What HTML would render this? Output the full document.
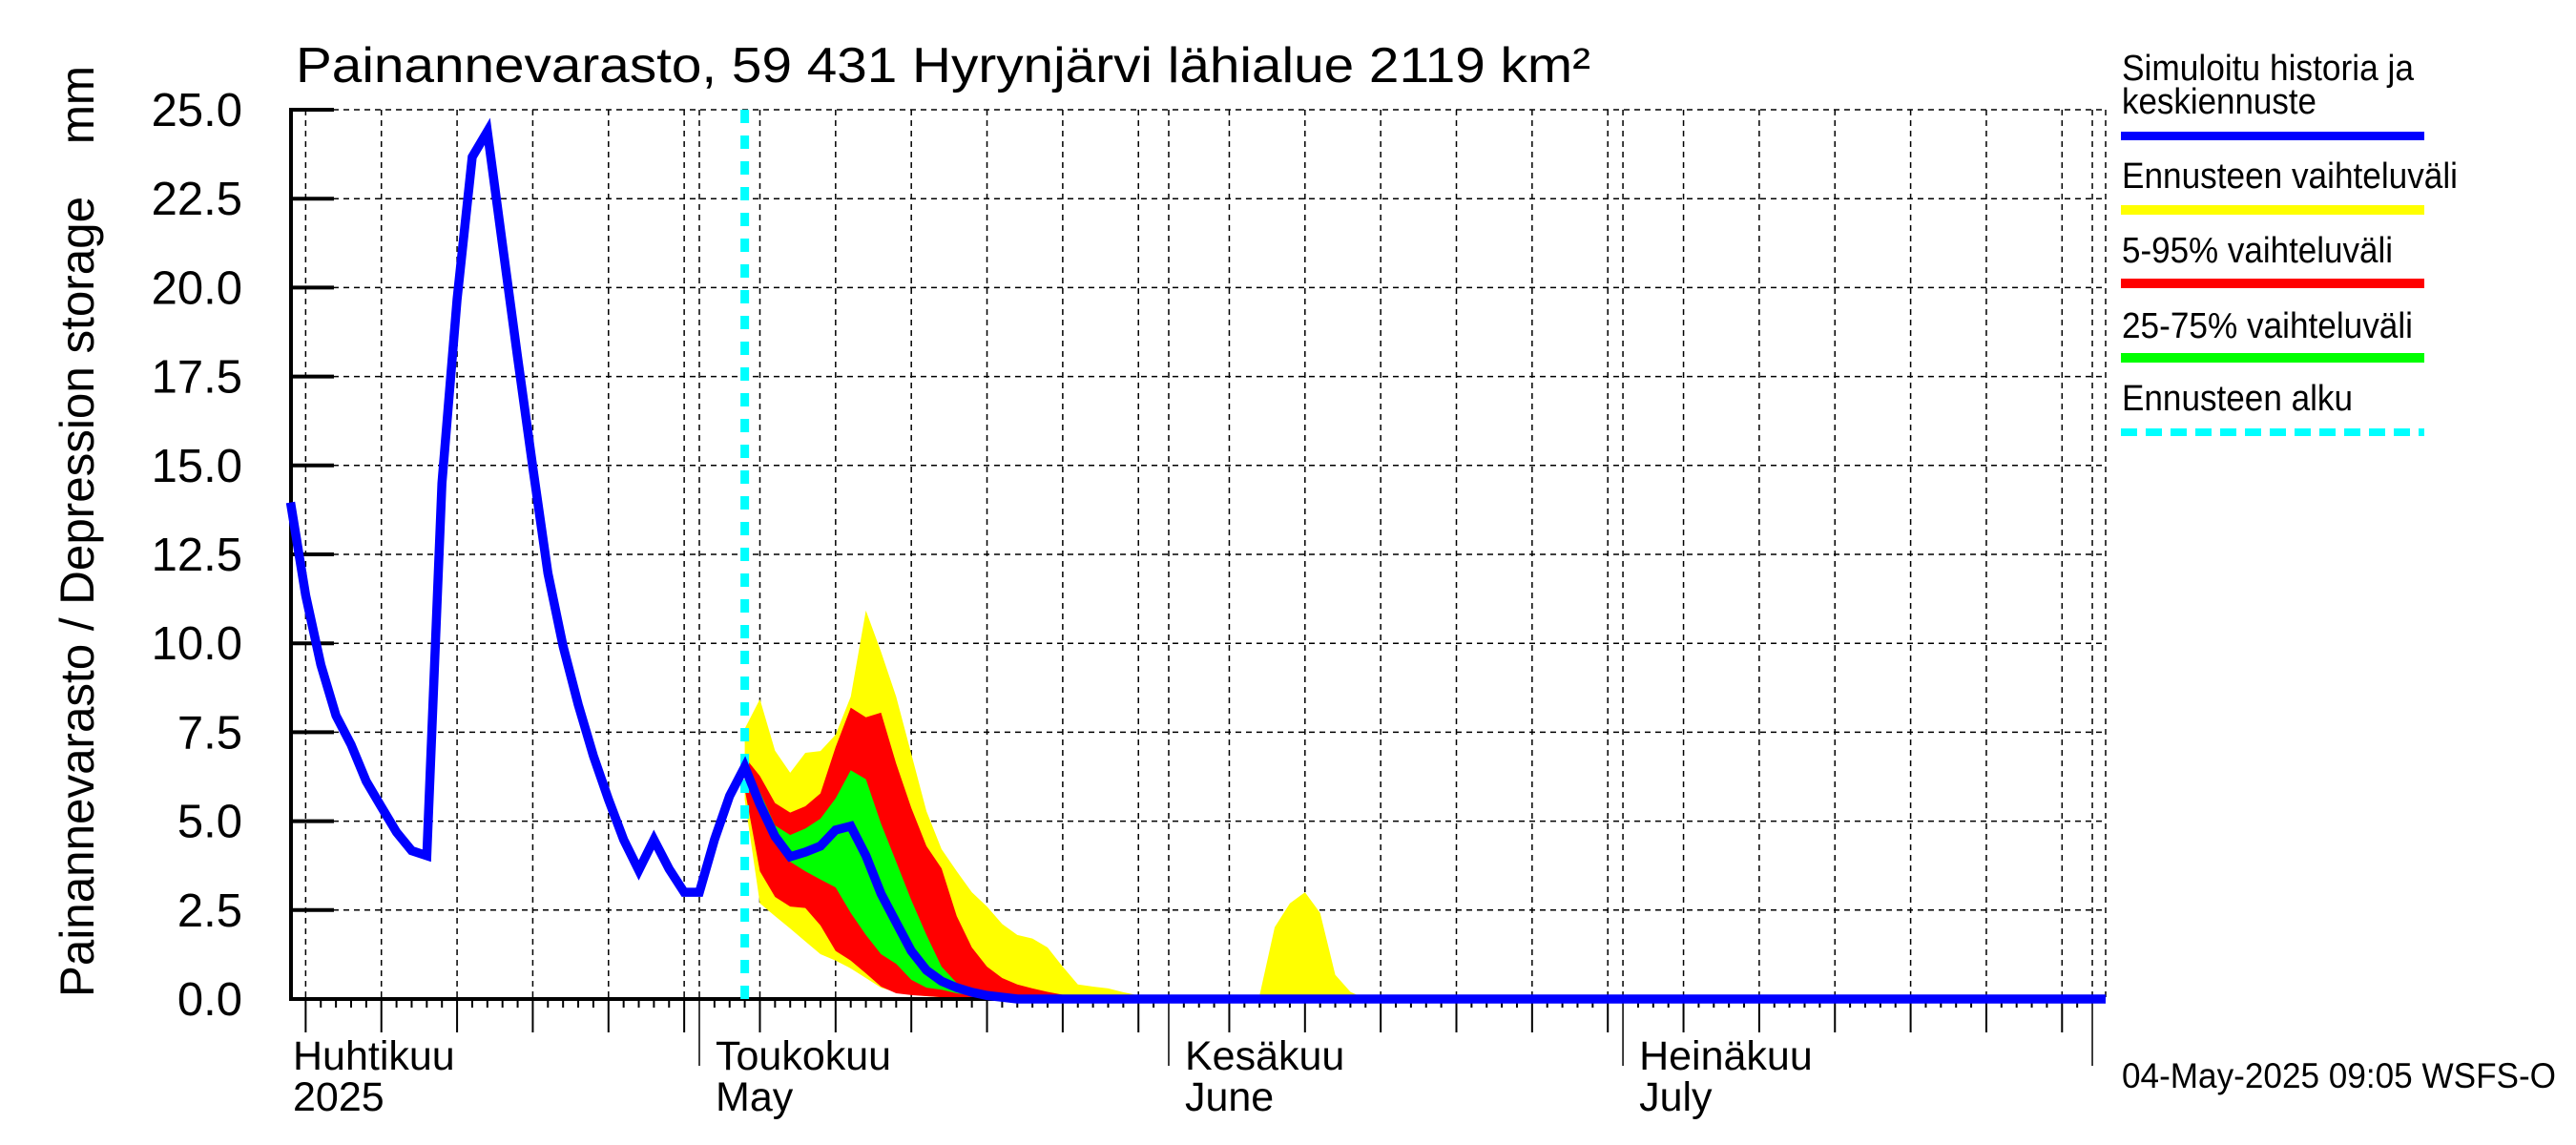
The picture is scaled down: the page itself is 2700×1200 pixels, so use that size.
<!DOCTYPE html>
<html><head><meta charset="utf-8"><style>
html,body{margin:0;padding:0;background:#fff;}
svg{display:block;font-family:"Liberation Sans",sans-serif;}
</style></head><body>
<svg id="chart" width="2700" height="1200" viewBox="0 0 2700 1200" xmlns="http://www.w3.org/2000/svg">
<rect width="2700" height="1200" fill="#fff"/>
<g id="grid"></g>
<g id="bands"></g>
<g id="lines"></g>
<g id="axes"></g>
<text x="310" y="86" font-size="52" textLength="1357" lengthAdjust="spacingAndGlyphs">Painannevarasto, 59 431 Hyrynjärvi lähialue 2119 km²</text>
<text transform="translate(98,1045) rotate(-90)" font-size="50" textLength="976" lengthAdjust="spacingAndGlyphs" xml:space="preserve">Painannevarasto / Depression storage    mm</text>
<g>
<text x="2224" y="84" font-size="38" textLength="306" lengthAdjust="spacingAndGlyphs">Simuloitu historia ja</text>
<text x="2224" y="119" font-size="38" textLength="204" lengthAdjust="spacingAndGlyphs">keskiennuste</text>
<rect x="2223" y="138" width="318" height="9" fill="#0000ff"/>
<text x="2224" y="197" font-size="38" textLength="352" lengthAdjust="spacingAndGlyphs">Ennusteen vaihteluväli</text>
<rect x="2223" y="215" width="318" height="10" fill="#ffff00"/>
<text x="2224" y="275" font-size="38" textLength="284" lengthAdjust="spacingAndGlyphs">5-95% vaihteluväli</text>
<rect x="2223" y="292" width="318" height="10" fill="#ff0000"/>
<text x="2224" y="354" font-size="38" textLength="305" lengthAdjust="spacingAndGlyphs">25-75% vaihteluväli</text>
<rect x="2223" y="370" width="318" height="10" fill="#00ff00"/>
<text x="2224" y="430" font-size="38" textLength="242" lengthAdjust="spacingAndGlyphs">Ennusteen alku</text>
<line x1="2223" y1="453" x2="2541" y2="453" stroke="#00ffff" stroke-width="8" stroke-dasharray="17 9"/>
</g>
<text x="2224" y="1140" font-size="37" textLength="455" lengthAdjust="spacingAndGlyphs">04-May-2025 09:05 WSFS-O</text>
</svg>
<script>
// day index t: days relative to 1 May 2025
const histStart = -27;
const histValues = [13.96,11.35,9.4,7.97,7.15,6.12,5.4,4.69,4.17,4.03,14.5,19.67,23.67,24.39,21.2,18.03,14.95,11.97,9.92,8.28,6.84,5.61,4.48,3.62,4.48,3.66,3.0,3.0,4.48,5.71,6.53];
const fcStart = 3;
const medianValues = [6.53,5.47,4.57,4.0,4.13,4.3,4.75,4.86,4.03,2.96,2.15,1.35,0.81,0.5,0.32,0.19,0.1,0.05,0];
const maxValues = [7.6,8.43,6.98,6.36,6.92,6.97,7.43,8.5,10.92,9.76,8.5,6.89,5.28,4.21,3.59,3.0,2.6,2.11,1.8,1.7,1.45,0.91,0.41,0.35,0.3,0.19,0.1,0.02,0,0,0,0,0,0,0.1,2.02,2.69,3.0,2.42,0.68,0.2,0];
const minValues = [5.6,2.69,2.33,1.98,1.62,1.26,1.08,0.86,0.59,0.32,0.19,0.12,0.08,0.05,0.02,0];
const p95Values = [6.8,6.27,5.51,5.24,5.42,5.78,7.08,8.19,7.92,8.05,6.62,5.37,4.3,3.67,2.33,1.45,0.91,0.59,0.41,0.3,0.2,0.12,0.05,0];
const p5Values = [5.9,3.59,2.87,2.6,2.56,2.07,1.35,1.08,0.72,0.35,0.16,0.11,0.08,0.05,0.02,0];
const p75Values = [6.7,5.82,4.88,4.61,4.79,5.07,5.64,6.43,6.18,4.93,3.86,2.78,1.8,0.91,0.45,0.32,0.2,0.1,0];
const p25Values = [6.18,5.28,4.48,3.86,3.59,3.36,3.14,2.42,1.8,1.26,0.99,0.54,0.32,0.26,0.16,0.1,0.05,0];
const yTicks = [0,2.5,5,7.5,10,12.5,15,17.5,20,22.5,25];
const yTickLabels = ["0.0","2.5","5.0","7.5","10.0","12.5","15.0","17.5","20.0","22.5","25.0"];
const monthStarts = [-30,0,31,61,92];
const monthLabels = [["Huhtikuu","2025"],["Toukokuu","May"],["Kesäkuu","June"],["Heinäkuu","July"]];
const endT = 92.9;

const NS="http://www.w3.org/2000/svg";
const X0=305,X1=2207,Y0=1047,Y1=115;
const tMin=(X0-733)/15.87;
function xs(t){return 733+t*15.87;}
function ys(v){return Y0-(v/25)*(Y0-Y1);}
function mk(tag,attrs,parent){const e=document.createElementNS(NS,tag);for(const k in attrs)e.setAttribute(k,attrs[k]);parent.appendChild(e);return e;}
const grid=document.getElementById('grid'),bands=document.getElementById('bands'),lines=document.getElementById('lines'),axes=document.getElementById('axes');

yTicks.forEach((v,i)=>{
  const l=mk('line',{x1:X0,x2:X1,y1:ys(v),y2:ys(v),stroke:'#000','stroke-width':1.5,'stroke-dasharray':'6 5'},grid);
  
  
  const tk=mk('line',{x1:X0,x2:350,y1:ys(v),y2:ys(v),stroke:'#000','stroke-width':4},axes);
  
  
  const tx=mk('text',{x:254,y:ys(v)+17,'font-size':49,'text-anchor':'end'},axes);
  tx.textContent=yTickLabels[i];
  
  
});
for(let t=Math.ceil(tMin);t<=endT;t++){
  const d=new Date(Date.UTC(2025,4,1+t));const day=d.getUTCDate();
  const x=xs(t);
  let len=9;
  if(day===1){len=70;}
  else if(day%5===0){len=35;}
  if(day===1||day%5===0){
    const g=mk('line',{x1:x,x2:x,y1:Y1,y2:Y0,stroke:'#000','stroke-width':1.5,'stroke-dasharray':'6 5'},grid);
    
    
  }
  const tk=mk('line',{x1:x,x2:x,y1:Y0,y2:Y0+len,stroke:'#000','stroke-width':day===1?1.5:2},axes);
  
  
}
mk('line',{x1:X1,x2:X1,y1:Y1,y2:Y0,stroke:'#000','stroke-width':1.5,'stroke-dasharray':'6 5'},grid);
monthLabels.forEach((lab,i)=>{
  const x=Math.max(307,xs(monthStarts[i])+17);
  const a=mk('text',{x:x,y:1121,'font-size':43},axes);a.textContent=lab[0];
  
  
  const b=mk('text',{x:x,y:1164,'font-size':43},axes);b.textContent=lab[1];
  
  
});

function band(upper,lower,color,name){
  let pts=[];
  upper.forEach((v,i)=>pts.push(xs(fcStart+i)+','+ys(v)));
  for(let i=lower.length-1;i>=0;i--)pts.push(xs(fcStart+i)+','+ys(lower[i]));
  const p=mk('polygon',{points:pts.join(' '),fill:color},bands);
  
  
}
band(maxValues,minValues,'#ffff00','band-min-max');
band(p95Values,p5Values,'#ff0000','band-5-95');
band(p75Values,p25Values,'#00ff00','band-25-75');

const cy=mk('line',{x1:xs(fcStart),x2:xs(fcStart),y1:Y1,y2:Y0,stroke:'#00ffff','stroke-width':9,'stroke-dasharray':'14 13'},lines);



let pts=[];
histValues.forEach((v,i)=>pts.push([xs(histStart+i),ys(v)]));
medianValues.forEach((v,i)=>{if(i>0)pts.push([xs(fcStart+i),ys(v)]);});
pts.push([X1,ys(0)]);
const bl=mk('polyline',{points:pts.map(p=>p.join(',')).join(' '),fill:'none',stroke:'#0000ff','stroke-width':9.5,'stroke-linejoin':'miter'},lines);



const ya=mk('line',{x1:X0,x2:X0,y1:Y1-2,y2:Y0+2,stroke:'#000','stroke-width':4},axes);


const xa=mk('line',{x1:X0,x2:X1,y1:Y0,y2:Y0,stroke:'#000','stroke-width':4},axes);


document.getElementById('chart').insertBefore(axes,lines);
</script>
</body></html>
